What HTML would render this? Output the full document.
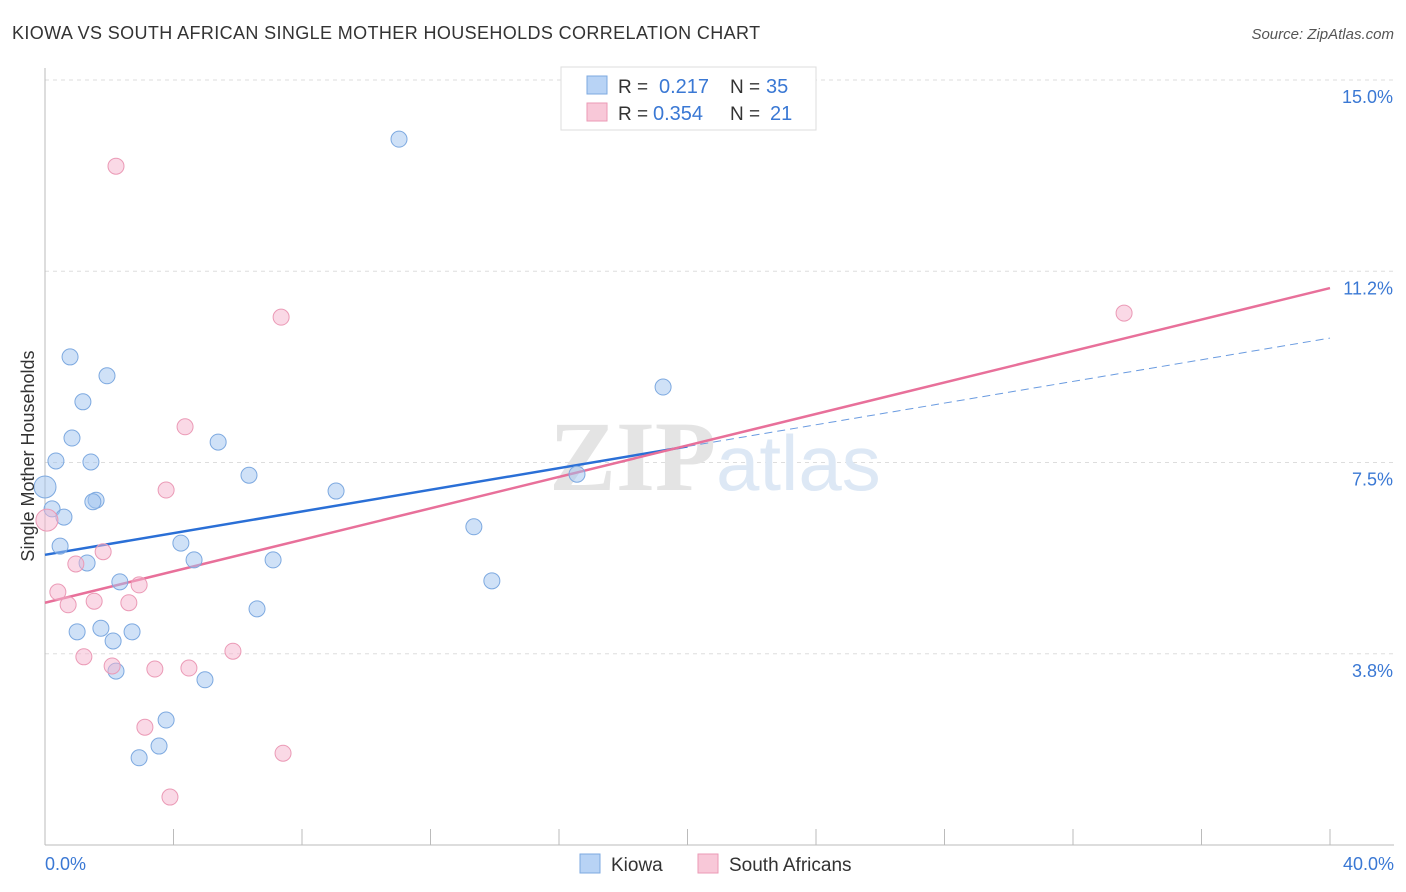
<!DOCTYPE html>
<html><head><meta charset="utf-8">
<style>
body{margin:0;background:#fff;font-family:"Liberation Sans",sans-serif;}
#wrap{position:relative;width:1406px;height:892px;overflow:hidden;}
</style></head>
<body>
<div id="wrap">
<svg id="chart" width="1406" height="892" xmlns="http://www.w3.org/2000/svg">
<text x="12" y="39" font-size="18" fill="#333" letter-spacing="0.38">KIOWA VS SOUTH AFRICAN SINGLE MOTHER HOUSEHOLDS CORRELATION CHART</text>
<text x="1394" y="39" font-size="15" fill="#555" font-style="italic" text-anchor="end">Source: ZipAtlas.com</text>
<g id="grid"></g>
<g id="axes"></g>
<text x="716" y="490" font-size="100" fill="#e4e4e4" text-anchor="end" font-family="Liberation Serif,serif" font-weight="bold">ZIP</text>
<text x="716" y="490" font-size="78" fill="#dde8f5">atlas</text>
<g id="trends"></g>
<g id="points"></g>
<text transform="translate(34,456) rotate(-90)" font-size="18" fill="#333" text-anchor="middle">Single Mother Households</text>
<g>
<rect x="561" y="67" width="255" height="63" fill="#fff" stroke="#ddd"/>
<rect x="587" y="76" width="20" height="18" fill="#b8d3f5" stroke="#7da9e0"/>
<rect x="587" y="103" width="20" height="18" fill="#f8c8d8" stroke="#eb9ab6"/>
<text x="618" y="93" font-size="19" fill="#333">R = </text><text x="659" y="93" font-size="20" fill="#3a78d4">0.217</text>
<text x="730" y="93" font-size="19" fill="#333">N = </text><text x="766" y="93" font-size="20" fill="#3a78d4">35</text>
<text x="618" y="120" font-size="19" fill="#333">R = </text><text x="653" y="120" font-size="20" fill="#3a78d4">0.354</text>
<text x="730" y="120" font-size="19" fill="#333">N = </text><text x="770" y="120" font-size="20" fill="#3a78d4">21</text>
</g>
<g>
<rect x="580" y="854" width="20" height="19" fill="#b8d3f5" stroke="#7da9e0"/>
<text x="611" y="871" font-size="19" fill="#333">Kiowa</text>
<rect x="698" y="854" width="20" height="19" fill="#f8c8d8" stroke="#eb9ab6"/>
<text x="729" y="871" font-size="19" fill="#333">South Africans</text>
</g>
</svg>
</div>
<script>
const xTicks=[0,4,8,12,16,20,24,28,32,36,40];
const yTicks=[3.75,7.5,11.25,15];
const yTickLabels=["3.8%","7.5%","11.2%","15.0%"];
const xEndLabels=["0.0%","40.0%"];
const kiowaX=[11.02,0.78,1.93,1.18,0.84,5.39,0.34,1.43,6.35,9.06,19.24,16.56,1.59,1.49,0,0.22,0.59,13.35,0.47,4.23,4.64,7.10,1.31,2.33,13.91,6.60,1.00,1.74,2.71,2.12,2.21,4.98,3.77,3.55,2.93];
const kiowaY=[13.84,9.57,9.20,8.69,7.98,7.90,7.53,7.51,7.25,6.94,8.98,7.27,6.76,6.73,7.02,6.59,6.43,6.24,5.86,5.92,5.59,5.59,5.53,5.16,5.18,4.63,4.18,4.25,4.18,4.00,3.41,3.24,2.45,1.94,1.71];
const saX=[2.21,7.35,33.59,4.36,3.77,0.06,1.81,0.96,2.93,0.40,1.53,0.72,2.61,1.21,5.85,2.09,3.42,4.48,3.11,7.41,3.89];
const saY=[13.31,10.35,10.43,8.20,6.96,6.37,5.75,5.51,5.10,4.96,4.78,4.71,4.75,3.69,3.80,3.51,3.45,3.47,2.31,1.80,0.94];
const kiowaTrend=[5.69,9.94]; // y at x=0 and x=40
const kiowaSolidEnd=20;
const saTrend=[4.75,10.92];
const X=v=>45+v*32.125;
const Y=v=>845-v*51;
const NS="http://www.w3.org/2000/svg";
function mk(tag,attrs,parent){const e=document.createElementNS(NS,tag);for(const k in attrs)e.setAttribute(k,attrs[k]);document.getElementById(parent).appendChild(e);return e;}
yTicks.forEach((t,i)=>{
  const l=mk('line',{x1:45,x2:1394,y1:Y(t),y2:Y(t),stroke:'#ddd','stroke-dasharray':'4,4'},'grid');
  
  
  const tx=mk('text',{x:1393,y:Y(t)+23,'font-size':18,fill:'#3a78d4','text-anchor':'end'},'axes');
  tx.textContent=yTickLabels[i];
  
  
});
const ya=mk('line',{x1:45,x2:45,y1:68,y2:845,stroke:'#bbb'},'axes');


const xa=mk('line',{x1:45,x2:1394,y1:845,y2:845,stroke:'#bbb'},'axes');


xTicks.forEach(t=>{
  const l=mk('line',{x1:X(t),x2:X(t),y1:829,y2:845,stroke:'#bbb'},'axes');
  
  
});
[[0,'start',45],[40,'end',1394]].forEach((d,i)=>{
  const tx=mk('text',{x:d[2],y:870,'font-size':18,fill:'#3a78d4','text-anchor':d[1]},'axes');
  tx.textContent=xEndLabels[i];
  
  
});
const ky=x=>kiowaTrend[0]+(kiowaTrend[1]-kiowaTrend[0])*x/40;
const t1=mk('line',{x1:X(0),y1:Y(ky(0)),x2:X(kiowaSolidEnd),y2:Y(ky(kiowaSolidEnd)),stroke:'#2a6fd6','stroke-width':2.5},'trends');


const t2=mk('line',{x1:X(kiowaSolidEnd),y1:Y(ky(kiowaSolidEnd)),x2:X(40),y2:Y(ky(40)),stroke:'#6a9be0','stroke-width':1,'stroke-dasharray':'8,5'},'trends');


const t3=mk('line',{x1:X(0),y1:Y(saTrend[0]),x2:X(40),y2:Y(saTrend[1]),stroke:'#e8709a','stroke-width':2.5},'trends');


kiowaX.forEach((x,i)=>{
  const c=mk('circle',{cx:X(x),cy:Y(kiowaY[i]),r:x===0?11:8,fill:'rgba(160,195,240,0.5)',stroke:'#7da9e0','stroke-width':1},'points');
  
  
});
saX.forEach((x,i)=>{
  const c=mk('circle',{cx:X(x),cy:Y(saY[i]),r:x<0.1?11:8,fill:'rgba(245,180,205,0.5)',stroke:'#eb9ab6','stroke-width':1},'points');
  
  
});
</script>
</body></html>
